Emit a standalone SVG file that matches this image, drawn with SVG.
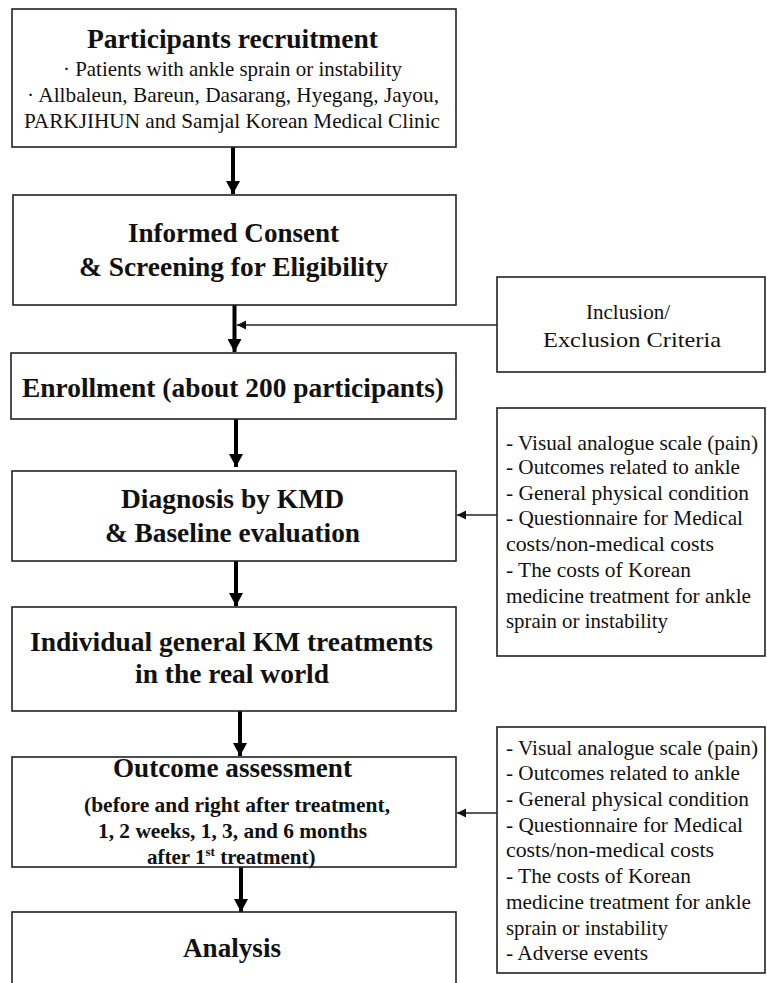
<svg xmlns="http://www.w3.org/2000/svg" width="767" height="983" viewBox="0 0 767 983">
<defs>
<style>
.box{fill:#fff;stroke:#222;stroke-width:1.6}
.t{font-family:"Liberation Serif","Times New Roman",serif;fill:#111}
.h{font-size:27px;font-weight:bold}
.s{font-size:21px}
.sb{font-size:21px;font-weight:bold}
.m{font-size:22px}
.thick{stroke:#000;stroke-width:4;fill:none}
.thin{stroke:#222;stroke-width:1.3;fill:none}
</style>
<marker id="big" markerUnits="userSpaceOnUse" markerWidth="14" markerHeight="14" refX="13" refY="7" orient="auto">
<path d="M0,0 L13,7 L0,14 Z" fill="#000"/>
</marker>
<marker id="small" markerUnits="userSpaceOnUse" markerWidth="10" markerHeight="10" refX="9" refY="5" orient="auto">
<path d="M0,0.5 L9,5 L0,9.5 Z" fill="#111"/>
</marker>
</defs>
<rect width="767" height="983" fill="#fff"/>

<g id="connectors">
<line class="thick" x1="233" y1="147" x2="233" y2="194" marker-end="url(#big)"/>
<line class="thick" x1="234.5" y1="305" x2="234.5" y2="352" marker-end="url(#big)"/>
<line class="thick" x1="236" y1="419" x2="236" y2="467" marker-end="url(#big)"/>
<line class="thick" x1="236" y1="561" x2="236" y2="606" marker-end="url(#big)"/>
<line class="thick" x1="240" y1="711" x2="240" y2="756" marker-end="url(#big)"/>
<line class="thick" x1="241" y1="867" x2="241" y2="912" marker-end="url(#big)"/>
<line class="thin" x1="497" y1="325" x2="237" y2="325" marker-end="url(#small)"/>
<line class="thin" x1="497" y1="515" x2="457" y2="515" marker-end="url(#small)"/>
<line class="thin" x1="497" y1="813" x2="457" y2="813" marker-end="url(#small)"/>
</g>

<g id="recruitment">
<rect class="box" x="12" y="9" width="444" height="138"/>
<text class="t h" x="87" y="48" textLength="291" lengthAdjust="spacingAndGlyphs">Participants recruitment</text>
<text class="t s" x="63" y="76" textLength="339" lengthAdjust="spacingAndGlyphs">· Patients with ankle sprain or instability</text>
<text class="t s" x="27" y="102" textLength="412" lengthAdjust="spacingAndGlyphs">· Allbaleun,  Bareun, Dasarang, Hyegang, Jayou,</text>
<text class="t s" x="24" y="128" textLength="416" lengthAdjust="spacingAndGlyphs">PARKJIHUN and Samjal Korean Medical Clinic</text>
</g>

<g id="consent">
<rect class="box" x="13" y="195" width="443" height="110"/>
<text class="t h" x="128" y="242" textLength="211" lengthAdjust="spacingAndGlyphs">Informed Consent</text>
<text class="t h" x="79" y="276" textLength="309" lengthAdjust="spacingAndGlyphs">&amp; Screening for Eligibility</text>
</g>

<g id="criteria">
<rect class="box" x="497" y="277" width="268" height="95"/>
<text class="t m" x="586" y="319" textLength="84" lengthAdjust="spacingAndGlyphs">Inclusion/</text>
<text class="t m" x="543" y="347" textLength="178" lengthAdjust="spacingAndGlyphs">Exclusion Criteria</text>
</g>

<g id="enrollment">
<rect class="box" x="11" y="353" width="445" height="66"/>
<text class="t h" x="22" y="397" textLength="422" lengthAdjust="spacingAndGlyphs">Enrollment (about 200 participants)</text>
</g>

<g id="diagnosis">
<rect class="box" x="12" y="471" width="444" height="90"/>
<text class="t h" x="121" y="508" textLength="223" lengthAdjust="spacingAndGlyphs">Diagnosis by KMD</text>
<text class="t h" x="105" y="542" textLength="255" lengthAdjust="spacingAndGlyphs">&amp; Baseline evaluation</text>
</g>

<g id="baseline-measures">
<rect class="box" x="497" y="408" width="268" height="248"/>
<text class="t s" x="506" y="450" textLength="252" lengthAdjust="spacingAndGlyphs">- Visual analogue scale (pain)</text>
<text class="t s" x="506" y="474" textLength="234" lengthAdjust="spacingAndGlyphs">- Outcomes related to ankle</text>
<text class="t s" x="506" y="500" textLength="243" lengthAdjust="spacingAndGlyphs">- General physical condition</text>
<text class="t s" x="506" y="525" textLength="237" lengthAdjust="spacingAndGlyphs">- Questionnaire for Medical</text>
<text class="t s" x="506" y="551" textLength="208" lengthAdjust="spacingAndGlyphs">costs/non-medical costs</text>
<text class="t s" x="506" y="577" textLength="185" lengthAdjust="spacingAndGlyphs">- The costs of Korean</text>
<text class="t s" x="506" y="603" textLength="245" lengthAdjust="spacingAndGlyphs">medicine treatment for ankle</text>
<text class="t s" x="506" y="628" textLength="162" lengthAdjust="spacingAndGlyphs">sprain or instability</text>
</g>

<g id="treatment">
<rect class="box" x="12" y="607" width="444" height="104"/>
<text class="t h" x="30" y="651" textLength="403" lengthAdjust="spacingAndGlyphs">Individual general KM treatments</text>
<text class="t h" x="135" y="683" textLength="194" lengthAdjust="spacingAndGlyphs">in the real world</text>
</g>

<g id="outcome">
<rect class="box" x="12" y="757" width="444" height="110"/>
<text class="t h" x="113" y="777" textLength="239" lengthAdjust="spacingAndGlyphs">Outcome assessment</text>
<text class="t sb" x="84" y="812" textLength="306" lengthAdjust="spacingAndGlyphs">(before and right after treatment,</text>
<text class="t sb" x="98" y="838" textLength="269" lengthAdjust="spacingAndGlyphs">1, 2 weeks, 1, 3, and 6 months</text>
<text class="t sb" x="147" y="864">after 1<tspan font-size="13" dy="-8">st</tspan><tspan dy="8"> treatment)</tspan></text>
</g>

<g id="outcome-measures">
<rect class="box" x="497" y="727" width="268" height="246"/>
<text class="t s" x="506" y="755" textLength="252" lengthAdjust="spacingAndGlyphs">- Visual analogue scale (pain)</text>
<text class="t s" x="506" y="780" textLength="234" lengthAdjust="spacingAndGlyphs">- Outcomes related to ankle</text>
<text class="t s" x="506" y="806" textLength="243" lengthAdjust="spacingAndGlyphs">- General physical condition</text>
<text class="t s" x="506" y="832" textLength="237" lengthAdjust="spacingAndGlyphs">- Questionnaire for Medical</text>
<text class="t s" x="506" y="857" textLength="208" lengthAdjust="spacingAndGlyphs">costs/non-medical costs</text>
<text class="t s" x="506" y="883" textLength="185" lengthAdjust="spacingAndGlyphs">- The costs of Korean</text>
<text class="t s" x="506" y="909" textLength="245" lengthAdjust="spacingAndGlyphs">medicine treatment for ankle</text>
<text class="t s" x="506" y="935" textLength="162" lengthAdjust="spacingAndGlyphs">sprain or instability</text>
<text class="t s" x="506" y="960" textLength="142" lengthAdjust="spacingAndGlyphs">- Adverse events</text>
</g>

<g id="analysis">
<rect class="box" x="12" y="912" width="444" height="80"/>
<text class="t h" x="183" y="957" textLength="98" lengthAdjust="spacingAndGlyphs">Analysis</text>
</g>
</svg>
